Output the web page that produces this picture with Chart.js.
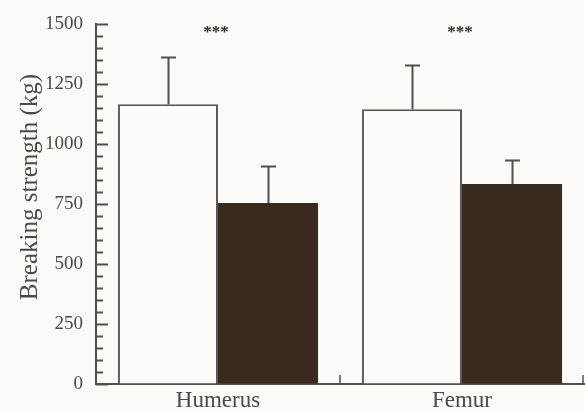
<!DOCTYPE html>
<html>
<head>
<meta charset="utf-8">
<script src="https://cdn.jsdelivr.net/npm/chart.js@4/dist/chart.umd.min.js"></script>
<style>
  html, body { margin: 0; padding: 0; background: #fbfaf6; }
  canvas { display: block; }
</style>
</head>
<body>
<canvas id="c" width="585" height="410"></canvas>
<script>
// Bone breaking strength (kg), two groups per bone, mean with upper SD bar
const bones = ['Humerus', 'Femur'];
const groupA = [1167, 1146];        // open bars
const groupB = [755, 834];          // dark bars
const groupAErr = [198, 186];
const groupBErr = [154, 100];
const significance = ['***', '***'];
const yTicksLabelled = [0, 250, 500, 750, 1000, 1250, 1500];
const yTitle = 'Breaking strength (kg)';

const INK = '#4f4f4f';
const TEXT = '#4a4a4a';
const SERIF = '"Liberation Serif", "Times New Roman", serif';

// page background
const bgPlugin = {
  id: 'paper',
  beforeDraw(chart) {
    const { ctx, width, height } = chart;
    ctx.save();
    ctx.fillStyle = '#fbfaf6';
    ctx.fillRect(0, 0, width, height);
    ctx.restore();
  }
};

// inward tick marks, upper error bars, significance stars and rotated axis title
const decorPlugin = {
  id: 'decor',
  afterDatasetsDraw(chart) {
    const { ctx } = chart;
    const x = chart.scales.x;
    const y = chart.scales.y;
    ctx.save();
    ctx.strokeStyle = INK;
    ctx.lineWidth = 2;

    // y axis ticks pointing into the plot
    const ax = y.right;
    y.ticks.forEach(t => {
      const py = Math.round(y.getPixelForValue(t.value)) + 0.5;
      const major = yTicksLabelled.includes(t.value);
      const len = major ? 12 : 7;
      ctx.beginPath();
      ctx.moveTo(ax, py);
      ctx.lineTo(ax + len, py);
      ctx.stroke();
    });

    // short marks at category boundaries on the x axis
    const base = x.top;
    const bounds = [];
    for (let i = 0; i < bones.length - 1; i++) {
      bounds.push((x.getPixelForValue(i) + x.getPixelForValue(i + 1)) / 2);
    }
    bounds.push(x.right - 1);
    ctx.lineWidth = 1.5;
    bounds.forEach(bx => {
      ctx.beginPath();
      ctx.moveTo(bx, base);
      ctx.lineTo(bx, base - 9);
      ctx.stroke();
    });

    // error bars
    ctx.lineWidth = 2;
    const series = [[groupA, groupAErr], [groupB, groupBErr]];
    series.forEach(([vals, errs], di) => {
      const meta = chart.getDatasetMeta(di);
      meta.data.forEach((bar, i) => {
        const cx = Math.round(bar.x) + 0.5;
        const yTop = y.getPixelForValue(vals[i]);
        const yErr = Math.round(y.getPixelForValue(vals[i] + errs[i])) + 0.5;
        ctx.beginPath();
        ctx.moveTo(cx, yTop);
        ctx.lineTo(cx, yErr);
        ctx.moveTo(cx - 7.5, yErr);
        ctx.lineTo(cx + 7.5, yErr);
        ctx.stroke();
      });
    });

    // significance markers above each bone
    ctx.fillStyle = '#2e2e2e';
    ctx.font = 'bold 17px ' + SERIF;
    ctx.textAlign = 'center';
    ctx.textBaseline = 'alphabetic';
    significance.forEach((s, i) => {
      ctx.fillText(s, x.getPixelForValue(i) - 2, y.top + 13);
    });

    // y axis title
    ctx.fillStyle = TEXT;
    ctx.font = '25px ' + SERIF;
    ctx.translate(30, 187);
    ctx.rotate(-Math.PI / 2);
    ctx.textAlign = 'center';
    ctx.textBaseline = 'middle';
    ctx.fillText(yTitle, 0, 0);
    ctx.restore();
  }
};

new Chart(document.getElementById('c'), {
  type: 'bar',
  data: {
    labels: bones,
    datasets: [
      {
        data: groupA,
        backgroundColor: '#fdfcf9',
        borderColor: '#5a5a5a',
        borderWidth: 2,
        borderSkipped: 'start'
      },
      {
        data: groupB,
        backgroundColor: '#3a2a1f',
        borderColor: '#3a2a1f',
        borderWidth: 0
      }
    ]
  },
  options: {
    responsive: false,
    animation: false,
    devicePixelRatio: 1,
    layout: { padding: { top: 20, right: 1, left: 0, bottom: 0 } },
    categoryPercentage: 0.82,
    barPercentage: 1.0,
    plugins: {
      legend: { display: false },
      tooltip: { enabled: false },
      title: { display: false }
    },
    scales: {
      x: {
        grid: { display: true, drawOnChartArea: false, drawTicks: false },
        border: { display: true, color: INK, width: 2 },
        ticks: {
          color: TEXT,
          padding: 5,
          font: { family: SERIF, size: 23, lineHeight: 1 }
        },
        afterFit(scale) { scale.height = 26; }
      },
      y: {
        min: 0,
        max: 1500,
        grid: { display: true, drawOnChartArea: false, drawTicks: false },
        border: { display: true, color: INK, width: 2 },
        ticks: {
          stepSize: 50,
          autoSkip: false,
          padding: 13,
          color: TEXT,
          font: { family: SERIF, size: 19 },
          callback: v => (yTicksLabelled.includes(v) ? String(v) : '')
        },
        afterFit(scale) { scale.width = 96; }
      }
    }
  },
  plugins: [bgPlugin, decorPlugin]
});
</script>
</body>
</html>
